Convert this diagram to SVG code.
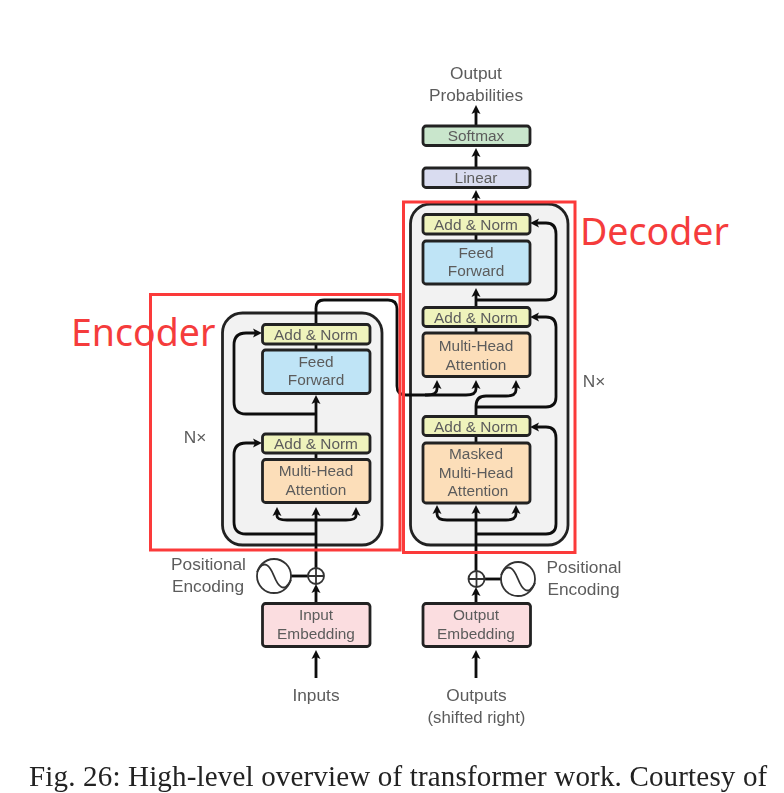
<svg xmlns="http://www.w3.org/2000/svg" width="784" height="793" viewBox="0 0 784 793">
<style>
text{font-family:"Liberation Sans",Arial,sans-serif;fill:#5c5c5c;text-anchor:middle}
.b{font-size:15.4px}
.l{font-size:17.3px}
.box{stroke:#222;stroke-width:2.8}
.stack{fill:#f2f2f2;stroke:#222;stroke-width:2.8}
.c{fill:none;stroke:#111;stroke-width:2.8}
.s{fill:none;stroke:#333;stroke-width:1.8}
.add{fill:#eff3bc}.ff{fill:#bfe4f6}.mha{fill:#fcdeb9}.emb{fill:#fbdde0}
.red{fill:none;stroke:#fb3a3a;stroke-width:3}
.rt{font-family:"Noto Sans",sans-serif;font-size:37.5px;fill:#f53c3c;text-anchor:start}
.cap{font-family:"Liberation Serif",serif;font-size:29px;fill:#222;text-anchor:start;letter-spacing:.17px}
</style>
<defs>
<marker id="a" viewBox="-3 -5 10 10" refX="0" refY="0" markerWidth="10" markerHeight="10" markerUnits="userSpaceOnUse" orient="auto"><path d="M-3,-4.5L6,0L-3,4.5L-1,0Z" fill="#111"/></marker>
<filter id="soft" x="-5%" y="-5%" width="110%" height="110%"><feGaussianBlur stdDeviation="0.45"/></filter>
</defs>
<rect width="784" height="793" fill="#fff"/>
<g filter="url(#soft)">
<g id="encoder-stack"><rect class="stack" x="222.500" y="313" width="159.500" height="232" rx="20"/></g>
<g id="decoder-stack"><rect class="stack" x="410.500" y="204" width="157.500" height="341" rx="20"/></g>
<g id="connectors">
<path class="c" marker-end="url(#a)" d="M316 678V656"/>
<path class="c" marker-end="url(#a)" d="M316 603V590"/>
<path class="c" marker-end="url(#a)" d="M316 568V513"/>
<path class="c" marker-end="url(#a)" d="M316 520H287Q277 520 277 516V513"/>
<path class="c" marker-end="url(#a)" d="M316 520H346Q356 520 356 516V513"/>
<path class="c" marker-end="url(#a)" d="M316 534H246Q234 534 234 522V455Q234 443 246 443H256"/>
<path class="c" d="M316 459V453"/>
<path class="c" marker-end="url(#a)" d="M316 434V401"/>
<path class="c" marker-end="url(#a)" d="M316 414H246Q234 414 234 402V345Q234 333 246 333H256"/>
<path class="c" d="M316 350V344"/>
<path class="c" marker-end="url(#a)" d="M316 324V308Q316 300 324 300H388Q397 300 397 309V386Q397 395 406 395H427Q437 395 437 389V386"/>
<path class="c" marker-end="url(#a)" d="M425 395H466Q476 395 476 389V386"/>
<path class="c" marker-end="url(#a)" d="M476 416V406Q476 396 486 396H506Q516 396 516 390V386"/>
<path class="c" marker-end="url(#a)" d="M476 407H546Q556 407 556 397V327Q556 317 546 317H536"/>
<path class="c" marker-end="url(#a)" d="M476 678V656"/>
<path class="c" marker-end="url(#a)" d="M476 603V593"/>
<path class="c" marker-end="url(#a)" d="M476 571V511"/>
<path class="c" marker-end="url(#a)" d="M476 520H447Q437 520 437 514V511"/>
<path class="c" marker-end="url(#a)" d="M476 520H506Q516 520 516 514V511"/>
<path class="c" marker-end="url(#a)" d="M476 534H546Q556 534 556 524V438Q556 427 546 427H536"/>
<path class="c" d="M476 443V436"/>
<path class="c" d="M476 333V326"/>
<path class="c" marker-end="url(#a)" d="M476 307V294"/>
<path class="c" marker-end="url(#a)" d="M476 300H546Q556 300 556 290V234Q556 223 546 223H536"/>
<path class="c" d="M476 241V234"/>
<path class="c" marker-end="url(#a)" d="M476 214V196"/>
<path class="c" marker-end="url(#a)" d="M476 168V154"/>
<path class="c" marker-end="url(#a)" d="M476 126V111"/>
<path class="c" d="M291 576H308"/>
<path class="c" d="M485 579H501"/>
</g>
<g id="enc-add2"><rect class="box add" x="262.500" y="324.500" width="107.500" height="19.500" rx="3"/><text class="b" x="316" y="340">Add &amp; Norm</text></g>
<g id="enc-ff"><rect class="box ff" x="262.500" y="350" width="107.500" height="43.500" rx="3"/><text class="b" x="316" y="367">Feed</text><text class="b" x="316" y="385">Forward</text></g>
<g id="enc-add1"><rect class="box add" x="262.500" y="434" width="107.500" height="19" rx="3"/><text class="b" x="316" y="449">Add &amp; Norm</text></g>
<g id="enc-mha"><rect class="box mha" x="262.500" y="459.500" width="107.500" height="43" rx="3"/><text class="b" x="316" y="476">Multi-Head</text><text class="b" x="316" y="495">Attention</text></g>
<g id="dec-add3"><rect class="box add" x="423" y="214.500" width="107" height="19.500" rx="3"/><text class="b" x="476" y="230">Add &amp; Norm</text></g>
<g id="dec-ff"><rect class="box ff" x="423" y="241" width="107" height="43" rx="3"/><text class="b" x="476" y="258">Feed</text><text class="b" x="476" y="276">Forward</text></g>
<g id="dec-add2"><rect class="box add" x="423" y="307.500" width="107" height="19" rx="3"/><text class="b" x="476" y="323">Add &amp; Norm</text></g>
<g id="dec-mha"><rect class="box mha" x="423" y="333" width="107" height="43.500" rx="3"/><text class="b" x="476" y="351">Multi-Head</text><text class="b" x="476" y="370">Attention</text></g>
<g id="dec-add1"><rect class="box add" x="423" y="416.500" width="107" height="19" rx="3"/><text class="b" x="476" y="432">Add &amp; Norm</text></g>
<g id="dec-masked"><rect class="box mha" x="423" y="443" width="107" height="60" rx="3"/><text class="b" x="476" y="459">Masked</text><text class="b" x="476" y="478">Multi-Head</text><text class="b" x="478" y="496">Attention</text></g>
<g id="linear"><rect class="box" fill="#d9dcf0" x="423" y="168" width="107" height="19.500" rx="3"/><text class="b" x="476" y="183">Linear</text></g>
<g id="softmax"><rect class="box" fill="#c9e6cc" x="423" y="126" width="107" height="19.500" rx="3"/><text class="b" x="476" y="141">Softmax</text></g>
<g id="input-embedding"><rect class="box emb" x="262.500" y="603.500" width="107.500" height="43" rx="3"/><text class="b" x="316" y="620">Input</text><text class="b" x="316" y="639">Embedding</text></g>
<g id="output-embedding"><rect class="box emb" x="423" y="603.500" width="107.500" height="43" rx="3"/><text class="b" x="476" y="620">Output</text><text class="b" x="476" y="639">Embedding</text></g>
<g id="enc-plus"><circle class="s" cx="316" cy="576" r="8"/><path class="s" d="M308 576H324M316 568V584"/></g>
<g id="enc-sine"><circle class="s" cx="274" cy="576" r="17"/><path class="s" d="M257 572C264 558 270 566 274 576S284 594 291 580"/></g>
<g id="dec-plus"><circle class="s" cx="476.500" cy="579" r="8"/><path class="s" d="M468.500 579H484.500M476.500 571V587"/></g>
<g id="dec-sine"><circle class="s" cx="518" cy="579" r="17"/><path class="s" d="M501 575C508 561 514 569 518 579S528 597 535 583"/></g>
<g id="labels">
<text class="l" x="476" y="79">Output</text>
<text class="l" x="476" y="101">Probabilities</text>
<text class="l" x="208.500" y="570">Positional</text>
<text class="l" x="208" y="592">Encoding</text>
<text class="l" x="584" y="573">Positional</text>
<text class="l" x="583.500" y="595">Encoding</text>
<text class="l" x="316" y="701">Inputs</text>
<text class="l" x="476.500" y="701">Outputs</text>
<text class="l" x="476.500" y="723" style="font-size:16.8px">(shifted right)</text>
<text class="l" x="195" y="443">N×</text>
<text class="l" x="594" y="387">N×</text>
</g>
</g>
<g id="annotations">
<rect class="red" x="150.500" y="294.500" width="249.500" height="255.500"/>
<rect class="red" x="403.500" y="202" width="171.500" height="350.500"/>
<text class="rt" x="71" y="346">Encoder</text>
<text class="rt" x="580" y="245">Decoder</text>
</g>
<text class="cap" filter="url(#soft)" x="29" y="786">Fig. 26: High-level overview of transformer work. Courtesy of</text>
</svg>
